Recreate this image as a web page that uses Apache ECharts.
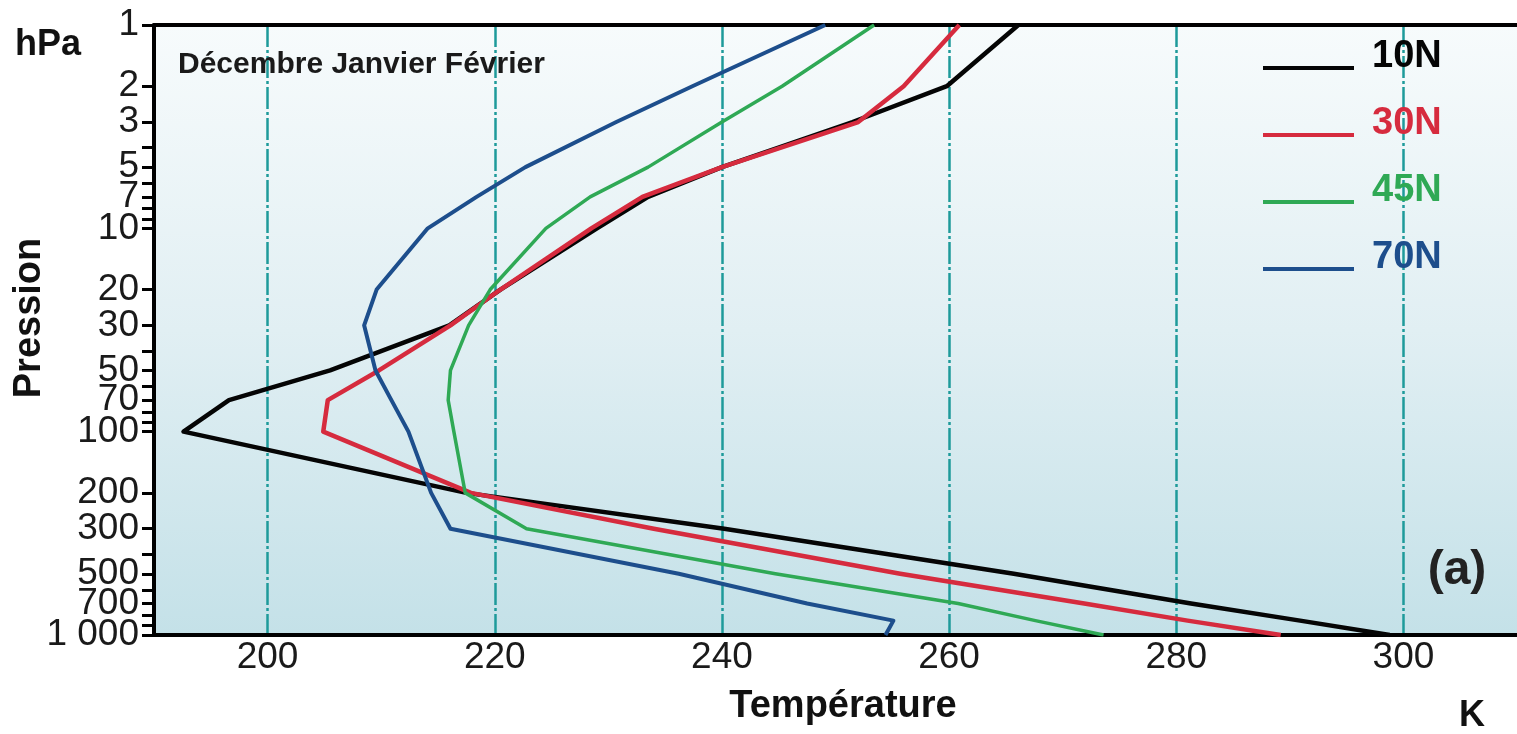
<!DOCTYPE html>
<html>
<head>
<meta charset="utf-8">
<title>Température – Décembre Janvier Février</title>
<script src="https://cdn.jsdelivr.net/npm/echarts@6/dist/echarts.min.js"></script>
<style>
  html, body { margin: 0; padding: 0; background: #fff; }
  #chart { width: 1517px; height: 734px; }
</style>
</head>
<body>
<div id="chart"></div>
<script>
// niveaux de pression (hPa)
const pressures = [1, 2, 3, 5, 7, 10, 20, 30, 50, 70, 100, 200, 300, 500, 700, 850, 1000];

// températures (K), une par niveau de pression
const temp10N = [266.1, 259.8, 251.5, 240.0, 233.5, 229.0, 220.5, 216.0, 205.5, 196.6, 192.6, 217.5, 240.2, 265.7, 281.3, 290.9, 298.8];
const temp30N = [260.9, 256.0, 252.0, 240.0, 233.0, 228.5, 220.5, 216.1, 209.8, 205.3, 204.9, 217.9, 234.0, 255.7, 271.9, 281.0, 289.2];
const temp45N = [253.4, 245.3, 240.0, 233.5, 228.4, 224.5, 219.6, 217.7, 216.1, 215.9, 216.4, 217.4, 222.8, 244.7, 260.8, 267.6, 273.6];
const temp70N = [249.1, 237.4, 230.7, 222.7, 218.4, 214.1, 209.6, 208.5, 209.5, 210.9, 212.4, 214.4, 216.1, 236.2, 247.5, 255.1, 254.4];

const latitudes = ["10N", "30N", "45N", "70N"];
const temps = [temp10N, temp30N, temp45N, temp70N];
const colors = ["#050505", "#d62b3e", "#2fa955", "#1d4e8c"];
const widths = [4.5, 4.5, 3.5, 4];

// graduations
const xLabels = [200, 220, 240, 260, 280, 300];
const yLabels = [1, 2, 3, 5, 7, 10, 20, 30, 50, 70, 100, 200, 300, 500, 700, 1000];
const yTicks = [1, 2, 3, 4, 5, 6, 7, 8, 9, 10, 20, 30, 40, 50, 60, 70, 80, 90, 100,
  200, 300, 400, 500, 600, 700, 800, 900, 1000];

// echarts masque la dernière étiquette d'un axe si elle chevauche sa voisine :
// 700 et 1 000 sont donc posées chacune sur un axe log jumeau
const yLabelGroups = [yLabels.slice(0, -2), [700], [1000]];

const FONT = '"Liberation Sans", Arial, sans-serif';

// légende : traits via echarts, étiquettes décalées au-dessus du trait (comme l'original)
const LEGEND_TOP = 61;
const LEGEND_STEP = 67;

const yAxisBase = {
  type: "log",
  logBase: 10,
  min: 1,
  max: 1000.0001, // évite l'arrondi du log qui masquait le repère 1000
  inverse: true,
  position: "left",
  splitLine: { show: false },
};

const yLabelStyle = {
  fontSize: 37,
  color: "#1a1a1a",
  margin: 15,
  fontFamily: FONT,
  showMinLabel: true,
  showMaxLabel: true,
  formatter: (v) => (Math.round(v) === 1000 ? "1 000" : String(Math.round(v))),
};

const getOption = () => {
  // ordre de tracé : rouge par-dessus le noir
  const drawOrder = [0, 3, 2, 1];
  const series = drawOrder.map((i) => ({
    name: latitudes[i],
    type: "line",
    data: pressures.map((p, j) => [temps[i][j], p]),
    symbol: "none",
    lineStyle: { color: colors[i], width: widths[i], join: "round" },
    itemStyle: { color: colors[i] },
    z: 3 + i,
  }));

  const yAxes = yLabelGroups.map((labels, k) => ({
    ...yAxisBase,
    axisLine: { show: k === 0, onZero: false, lineStyle: { color: "#000", width: 4 } },
    axisTick: {
      show: k === 0,
      customValues: yTicks,
      length: 12,
      lineStyle: { color: "#000", width: 3 },
    },
    axisLabel: { ...yLabelStyle, customValues: labels },
  }));

  const legendLabels = latitudes.map((name, i) => ({
    type: "text",
    left: 1372,
    top: LEGEND_TOP + i * LEGEND_STEP - 23,
    z: 10,
    style: { text: name, fontSize: 38, fontWeight: "bold", fontFamily: FONT, fill: colors[i] },
  }));

  return {
    animation: false,
    backgroundColor: "#fff",
    textStyle: { fontFamily: FONT },
    grid: {
      left: 154, right: 0, top: 25, bottom: 99,
      show: true,
      borderWidth: 0,
      backgroundColor: new echarts.graphic.LinearGradient(0, 0, 0, 1, [
        { offset: 0, color: "#f7fbfc" },
        { offset: 0.5, color: "#e1eff3" },
        { offset: 1, color: "#c4e1e8" },
      ]),
    },
    legend: {
      orient: "vertical",
      left: 1258,
      top: LEGEND_TOP,
      itemWidth: 91,
      itemHeight: 4,
      itemGap: LEGEND_STEP - 4,
      icon: "rect",
      selectedMode: false,
      formatter: () => "",
      data: latitudes,
      textStyle: { fontSize: 1, padding: 0 },
    },
    xAxis: [
      {
        type: "value",
        min: 190,
        max: 310,
        axisLine: { show: true, onZero: false, lineStyle: { color: "#000", width: 4 } },
        axisTick: { show: false, customValues: xLabels },
        axisLabel: {
          customValues: xLabels,
          fontSize: 37,
          color: "#1a1a1a",
          margin: 4,
          fontFamily: FONT,
        },
        splitLine: {
          show: true,
          lineStyle: { color: "#1e9a9a", width: 2.5, type: [22, 3, 3, 3] },
        },
      },
      {
        type: "value",
        position: "top",
        min: 190,
        max: 310,
        axisLine: { show: true, onZero: false, lineStyle: { color: "#000", width: 4 } },
        axisTick: { show: false },
        axisLabel: { show: false },
        splitLine: { show: false },
      },
    ],
    yAxis: yAxes,
    graphic: [
      {
        type: "text", left: 15, top: 27,
        style: { text: "hPa", fontSize: 36, fontWeight: "bold", fontFamily: FONT, fill: "#111" },
      },
      {
        type: "text", x: 30, y: 318, rotation: Math.PI / 2,
        style: {
          text: "Pression", fontSize: 38, fontWeight: "bold", fontFamily: FONT, fill: "#111",
          align: "center", verticalAlign: "middle",
        },
      },
      {
        type: "text", left: 178, top: 50, z: 10,
        style: { text: "Décembre Janvier Février", fontSize: 30, fontWeight: "bold", fontFamily: FONT, fill: "#1a1a1a" },
      },
      {
        type: "text", x: 843, y: 707,
        style: {
          text: "Température", fontSize: 38, fontWeight: "bold", fontFamily: FONT, fill: "#111",
          align: "center", verticalAlign: "middle",
        },
      },
      {
        type: "text", x: 1472, y: 716,
        style: {
          text: "K", fontSize: 36, fontWeight: "bold", fontFamily: FONT, fill: "#111",
          align: "center", verticalAlign: "middle",
        },
      },
      {
        type: "text", x: 1457, y: 571, z: 10,
        style: {
          text: "(a)", fontSize: 48, fontWeight: "bold", fontFamily: FONT, fill: "#222",
          align: "center", verticalAlign: "middle",
        },
      },
      ...legendLabels,
    ],
    series,
  };
};

const chart = echarts.init(document.getElementById("chart"));
chart.setOption(getOption());
</script>
</body>
</html>
